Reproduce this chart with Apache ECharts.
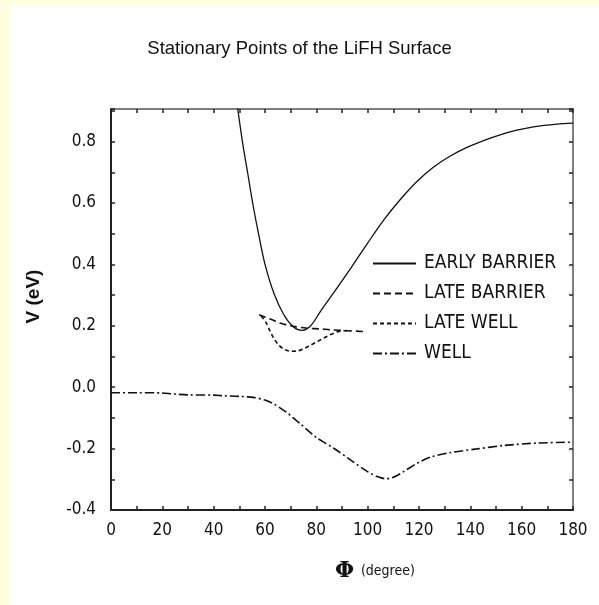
<!DOCTYPE html>
<html>
<head>
<meta charset="utf-8">
<script src="https://cdn.jsdelivr.net/npm/echarts@6/dist/echarts.min.js"></script>
<style>
  html, body { margin: 0; padding: 0; background: #fff; }
  .band-left { position: absolute; left: 0; top: 0; width: 10px; height: 605px; background: #ffffe0; }
  .band-top { position: absolute; left: 0; top: 0; width: 599px; height: 5px; background: #ffffe0; }
  #chart { position: absolute; left: 0; top: 0; width: 599px; height: 605px; }
</style>
</head>
<body>
<div class="band-left"></div>
<div class="band-top"></div>
<div id="chart"></div>
<script>
// 数据：[phi (degree), V (eV)]
const seriesNames = ['EARLY BARRIER', 'LATE BARRIER', 'LATE WELL', 'WELL'];

const earlyBarrier = [
  [49.0, 0.93], [51.2, 0.80], [53.2, 0.70], [55.3, 0.595], [57.7, 0.49],
  [60.0, 0.40], [63.5, 0.305], [67.4, 0.235], [71.0, 0.197], [74.5, 0.185],
  [77.8, 0.2], [82.0, 0.252], [86.8, 0.308], [93.3, 0.386], [99.8, 0.467],
  [106.3, 0.545], [112.8, 0.612], [119.2, 0.67], [125.7, 0.717], [132.2, 0.753],
  [138.7, 0.781], [145.1, 0.803], [151.6, 0.822], [158.1, 0.837], [164.6, 0.848],
  [173.7, 0.857], [180, 0.86]
];

const lateBarrier = [
  [57.7, 0.236], [62, 0.222], [66.1, 0.208], [71, 0.198], [76.5, 0.192],
  [81, 0.19], [85.5, 0.187], [92, 0.184], [98.5, 0.181]
];

const lateWell = [
  [58.5, 0.232], [60.3, 0.212], [62, 0.182], [63.5, 0.158], [65.5, 0.136],
  [67.4, 0.124], [70, 0.117], [72.6, 0.118], [75, 0.125], [77.8, 0.137],
  [80.5, 0.149], [82.9, 0.16], [85.5, 0.171], [88.1, 0.18], [91, 0.184],
  [93.5, 0.183]
];

const well = [
  [0, -0.018], [10, -0.018], [20, -0.019], [24, -0.022], [30, -0.025],
  [40, -0.026], [44, -0.028], [50, -0.03], [56, -0.034], [60, -0.042],
  [63.5, -0.055], [66, -0.068], [68.7, -0.084], [71, -0.1], [73.9, -0.12],
  [77, -0.143], [80.4, -0.166], [86.8, -0.199], [93.3, -0.237], [99.8, -0.274],
  [104, -0.292], [107, -0.298], [109.5, -0.295], [112, -0.285], [114, -0.275],
  [119.2, -0.248], [124.4, -0.228], [132.2, -0.213], [142.6, -0.201],
  [152.9, -0.19], [165.9, -0.182], [180, -0.179]
];

// 线型
const dashTypes = ['solid', [7, 4], [4, 3], [9, 3, 2, 3]];

const tickFont = "'DejaVu Sans Condensed', 'Liberation Sans', Arial, sans-serif";
const lineColor = '#111';

let myChart = echarts.init(document.getElementById('chart'));

const frameAxis = {
  axisLine: { show: true, onZero: false, lineStyle: { color: '#222', width: 2 } },
  axisTick: { show: true, inside: true, length: 4, lineStyle: { color: '#222', width: 1.5 } },
  splitLine: { show: false }
};
const sideLine = { axisLine: { show: true, onZero: false, lineStyle: { color: '#555', width: 1.5 } } };

myChart.setOption({
  animation: false,
  title: {
    text: 'Stationary Points of the LiFH Surface',
    left: 'center',
    top: 34,
    textStyle: { fontFamily: 'Liberation Sans, Arial, sans-serif', fontSize: 18.5, fontWeight: 'normal', color: '#111' }
  },
  grid: { left: 111, right: 26, top: 109, bottom: 95 },
  legend: {
    orient: 'vertical',
    left: 367,
    top: 249,
    itemWidth: 43,
    itemHeight: 14,
    itemGap: 11,
    data: seriesNames,
    itemStyle: { opacity: 0 },
    textStyle: { fontFamily: tickFont, fontSize: 19, color: '#111', padding: [0, 0, 0, 3] }
  },
  xAxis: [
    Object.assign({
      type: 'value',
      min: 0,
      max: 180,
      interval: 10,
      name: '{phi|Φ}  {deg|(degree)}',
      nameLocation: 'middle',
      nameGap: 50,
      nameTextStyle: {
        padding: [0, 0, 0, 66],
        rich: {
          phi: { fontFamily: 'DejaVu Serif, serif', fontSize: 22, fontWeight: 'bold', color: '#111' },
          deg: { fontFamily: tickFont, fontSize: 14, color: '#111' }
        }
      },
      axisLabel: {
        margin: 12,
        fontFamily: tickFont,
        fontSize: 17,
        color: '#111',
        formatter: v => (v % 20 === 0 ? String(v) : '')
      }
    }, frameAxis),
    Object.assign({
      type: 'value',
      position: 'top',
      min: 0,
      max: 180,
      interval: 10,
      axisLabel: { show: false }
    }, frameAxis, sideLine)
  ],
  yAxis: [
    Object.assign({
      type: 'value',
      min: -0.4,
      max: 0.906,
      interval: 0.1,
      name: 'V (eV)',
      nameLocation: 'middle',
      nameGap: 68,
      nameTextStyle: { fontFamily: 'Liberation Sans, Arial, sans-serif', fontSize: 19, fontWeight: 'bold', color: '#111', padding: [0, 0, 0, 26] },
      axisLabel: {
        margin: 15,
        fontFamily: tickFont,
        fontSize: 17,
        color: '#111',
        formatter: v => {
          const k = Math.round(v * 10);
          if (Math.abs(v * 10 - k) > 1e-6 || k % 2 !== 0) return '';
          return (k / 10).toFixed(1);
        }
      }
    }, frameAxis),
    Object.assign({
      type: 'value',
      position: 'right',
      min: -0.4,
      max: 0.906,
      interval: 0.1,
      axisLabel: { show: false }
    }, frameAxis, sideLine)
  ],
  series: [earlyBarrier, lateBarrier, lateWell, well].map((d, i) => ({
    name: seriesNames[i],
    type: 'line',
    data: d,
    smooth: 0.3,
    symbol: 'none',
    clip: true,
    lineStyle: { color: lineColor, width: i === 0 ? 1.3 : 1.6, type: dashTypes[i] },
    itemStyle: { color: lineColor }
  }))
});
</script>
</body>
</html>
